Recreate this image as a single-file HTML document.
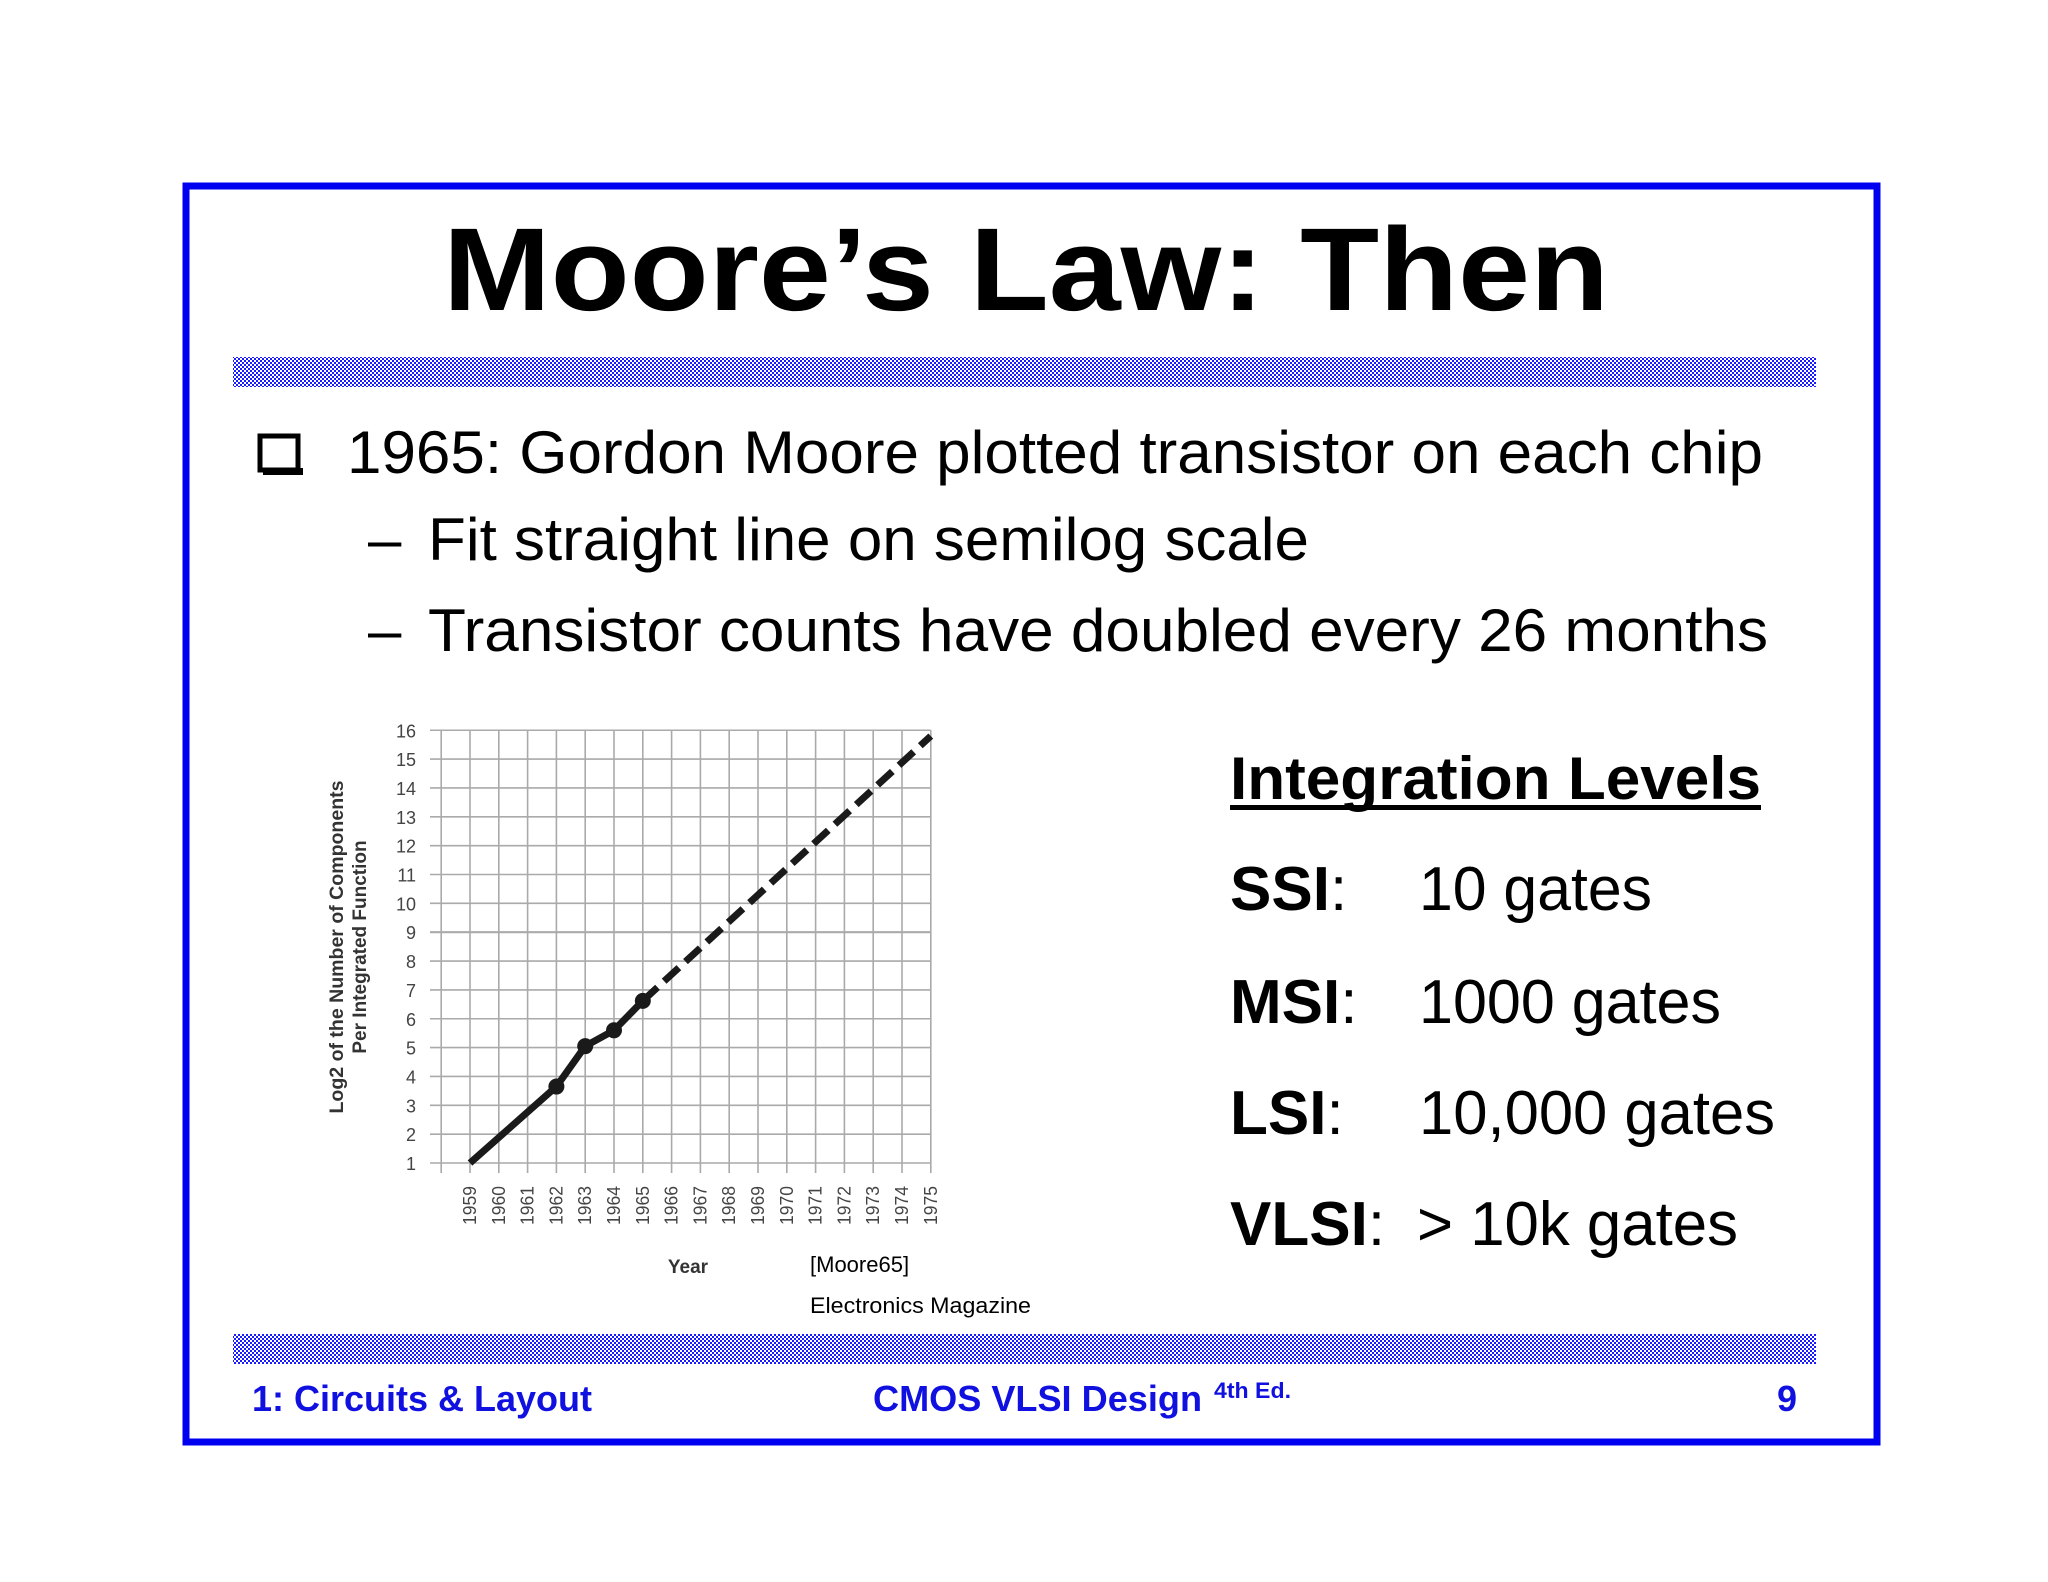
<!DOCTYPE html>
<html><head><meta charset="utf-8"><style>
html,body{margin:0;padding:0;background:#fff;}
svg{display:block;}
text{font-family:"Liberation Sans",Arial,sans-serif;}
</style></head><body>
<svg id="slide" width="2048" height="1582" viewBox="0 0 2048 1582" xmlns="http://www.w3.org/2000/svg">
<defs>
<pattern id="hatch" width="4" height="4" patternUnits="userSpaceOnUse">
<rect width="4" height="4" fill="#fff"/><rect width="2" height="2" fill="#1a1aff"/><rect x="2" y="2" width="2" height="2" fill="#1a1aff"/>
</pattern>
</defs>
<rect x="186" y="186" width="1691" height="1256" fill="none" stroke="#0000f0" stroke-width="7"/>
<text x="443" y="310" font-size="118" font-weight="bold" textLength="1166" lengthAdjust="spacingAndGlyphs">Moore’s Law: Then</text>
<rect x="233" y="357" width="1583" height="30" fill="url(#hatch)"/>
<rect x="233" y="1334" width="1583" height="30" fill="url(#hatch)"/>

<g>
<rect x="260" y="436" width="38" height="34" fill="none" stroke="#000" stroke-width="5"/>
<rect x="263" y="468" width="40" height="7" fill="#000"/>
</g>
<text x="347" y="473" font-size="60" textLength="1416" lengthAdjust="spacingAndGlyphs">1965: Gordon Moore plotted transistor on each chip</text>
<text x="368" y="560" font-size="60">–</text>
<text x="428" y="560" font-size="60" textLength="881" lengthAdjust="spacingAndGlyphs">Fit straight line on semilog scale</text>
<text x="368" y="651" font-size="60">–</text>
<text x="428" y="651" font-size="60" textLength="1340" lengthAdjust="spacingAndGlyphs">Transistor counts have doubled every 26 months</text>

<text x="1230" y="799" font-size="60" font-weight="bold" textLength="531" lengthAdjust="spacingAndGlyphs">Integration Levels</text>
<rect x="1230" y="805" width="531" height="5" fill="#000"/>
<g font-size="62">
<text x="1230" y="910"><tspan font-weight="bold">SSI</tspan>:</text>
<text x="1419" y="910" textLength="233" lengthAdjust="spacingAndGlyphs">10 gates</text>
<text x="1230" y="1023"><tspan font-weight="bold">MSI</tspan>:</text>
<text x="1419" y="1023" textLength="302" lengthAdjust="spacingAndGlyphs">1000 gates</text>
<text x="1230" y="1134"><tspan font-weight="bold">LSI</tspan>:</text>
<text x="1419" y="1134" textLength="356" lengthAdjust="spacingAndGlyphs">10,000 gates</text>
<text x="1230" y="1245"><tspan font-weight="bold">VLSI</tspan>:</text>
<text x="1417" y="1245" textLength="321" lengthAdjust="spacingAndGlyphs">&gt; 10k gates</text>
</g>

<g id="chart"></g>

<text x="810" y="1272" font-size="22">[Moore65]</text>
<text x="810" y="1313" font-size="22" textLength="221" lengthAdjust="spacingAndGlyphs">Electronics Magazine</text>

<g fill="#1010e0" font-weight="bold" font-size="36">
<text x="252" y="1411" textLength="340" lengthAdjust="spacingAndGlyphs">1: Circuits &amp; Layout</text>
<text x="873" y="1411" textLength="329" lengthAdjust="spacingAndGlyphs">CMOS VLSI Design</text>
<text x="1214" y="1398" font-size="22" textLength="77" lengthAdjust="spacingAndGlyphs">4th Ed.</text>
<text x="1777" y="1411">9</text>
</g>
</svg>
<script>
const years = [1959,1960,1961,1962,1963,1964,1965,1966,1967,1968,1969,1970,1971,1972,1973,1974,1975];
const yTicks = [1,2,3,4,5,6,7,8,9,10,11,12,13,14,15,16];
const measuredYears = [1959,1962,1963,1964,1965];
const measuredValues = [1,3.65,5.05,5.6,6.62];
const markerYears = [1962,1963,1964,1965];
const markerValues = [3.65,5.05,5.6,6.62];
const projYears = [1965,1975];
const projValues = [6.62,15.8];

const NS = "http://www.w3.org/2000/svg";
const chart = document.getElementById('chart');
const X0 = 470, DX = 28.8, Y0 = 1163, DY = 28.85;
function xs(yr){ return X0 + (yr-1959)*DX; }
function ys(v){ return Y0 - (v-1)*DY; }
function mk(tag, attrs){ const e=document.createElementNS(NS,tag); for(const k in attrs) e.setAttribute(k,attrs[k]); chart.appendChild(e); return e; }

yTicks.forEach(v=>{
  const l = mk('line',{x1:430,x2:xs(1975),y1:ys(v),y2:ys(v),stroke:'#aaa','stroke-width':v===9?2.2:1.6});
  
  
  const t = mk('text',{x:416,y:ys(v)+7,'font-size':18,'text-anchor':'end',fill:'#444'});
  t.textContent = v;
  
  
});
const allX = [1958].concat(years);
allX.forEach(yr=>{
  const l = mk('line',{x1:xs(yr),x2:xs(yr),y1:ys(16),y2:ys(1)+10,stroke:'#aaa','stroke-width':1.6});
  
  
});
years.forEach(yr=>{
  const t = mk('text',{x:0,y:0,'font-size':18,'text-anchor':'end',fill:'#444',
    transform:`translate(${xs(yr)+6},1186) rotate(-90)`,textLength:39,lengthAdjust:'spacingAndGlyphs'});
  t.textContent = yr;
  
  
});
const yt = mk('text',{x:0,y:0,'font-size':19,'font-weight':'bold','text-anchor':'middle',fill:'#333',transform:'translate(343,947) rotate(-90)'});
yt.innerHTML = '<tspan x="0" textLength="333" lengthAdjust="spacingAndGlyphs">Log2 of the Number of Components</tspan><tspan x="0" dy="23">Per Integrated Function</tspan>';


const xt = mk('text',{x:688,y:1273,'font-size':19,'font-weight':'bold','text-anchor':'middle',fill:'#333'});
xt.textContent = 'Year';



const solid = mk('polyline',{points:measuredYears.map((y,i)=>xs(y)+','+ys(measuredValues[i])).join(' '),fill:'none',stroke:'#1a1a1a','stroke-width':7,'stroke-linejoin':'round'});


const dash = mk('polyline',{points:projYears.map((y,i)=>xs(y)+','+ys(projValues[i])).join(' '),fill:'none',stroke:'#1a1a1a','stroke-width':7,'stroke-dasharray':'20 9'});


markerYears.forEach((y,i)=>{
  const c = mk('circle',{cx:xs(y),cy:ys(markerValues[i]),r:8,fill:'#1a1a1a'});
  
  
});
</script>
</body></html>
